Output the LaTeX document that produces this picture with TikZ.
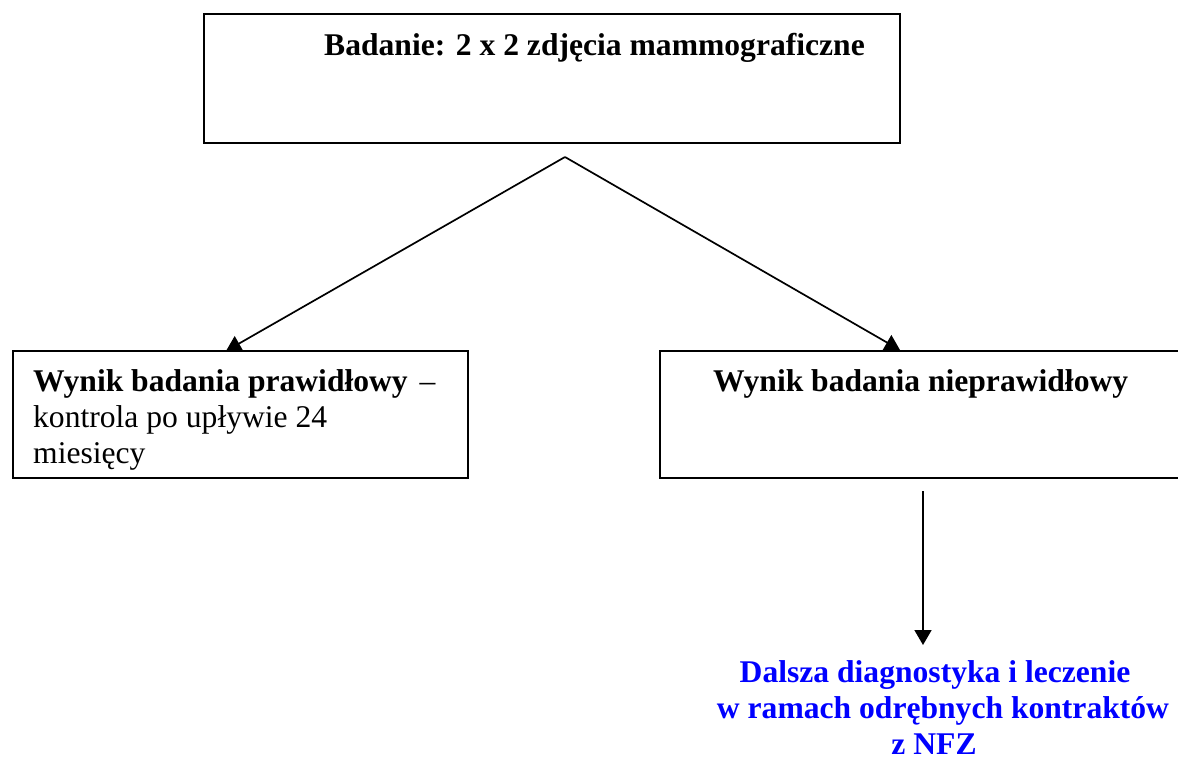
\documentclass[tikz,border=0pt]{standalone}
\usepackage{fontspec}
\setmainfont{Liberation Serif}
\usetikzlibrary{arrows.meta}
\definecolor{nfzblue}{RGB}{0,0,255}
\tikzset{
  box/.style={draw=black, line width=2.2pt, fill=white, inner sep=0pt, anchor=north west},
  conn/.style={draw=black, line width=1.7pt, -{Triangle[length=15pt,width=17pt]}},
  txt/.style={inner sep=0pt, font=\fontsize{31.6}{36.3}\selectfont, align=left},
  bluetxt/.style={txt, anchor=base, text=nfzblue, font=\fontsize{31.6}{36.3}\selectfont\bfseries},
}
\begin{document}
\begin{tikzpicture}[x=1pt,y=-1pt]
\useasboundingbox (0,0) rectangle (1178,760);
\clip (0,0) rectangle (1178,760);
% connectors (drawn first, boxes cover the arrow tips)
\coordinate (apex) at (565,157);
\coordinate (tipL) at (226,351);
\coordinate (tipR) at (900,350);
\draw[conn] (apex) -- (tipL);
\draw[conn] (apex) -- (tipR);
% boxes
\node[box, minimum width=696pt, minimum height=129pt] (top) at (203,13) {};
\node[box, minimum width=455pt, minimum height=127pt] (ok) at (12,350) {};
\node[box, minimum width=540pt, minimum height=127pt] (bad) at (659,350) {};
% texts
\node[txt, anchor=base west] (toptxt) at (324,56) {\textbf{Badanie: 2 x 2 zdjęcia mammograficzne}};
\node[txt, anchor=base west] (oktxt) at (33,391) {\textbf{Wynik badania prawidłowy}\hspace{4pt} –};
\node[txt, anchor=base west] (oktxt2) at (33,427.3) {kontrola po upływie 24};
\node[txt, anchor=base west] (oktxt3) at (33,463.6) {miesięcy};
\node[txt, anchor=base west] (badtxt) at (713,391) {\textbf{Wynik badania nieprawidłowy}};
\node[bluetxt] (next1) at (935,682) {Dalsza diagnostyka i leczenie};
\node[bluetxt] (next2) at (943,718) {w ramach odrębnych kontraktów};
\node[bluetxt] (next3) at (934,754) {z NFZ};
% vertical arrow
\coordinate (vstart) at (923,491);
\coordinate (vend) at (923,645);
\draw[conn] (vstart) -- (vend);
\end{tikzpicture}
\end{document}
